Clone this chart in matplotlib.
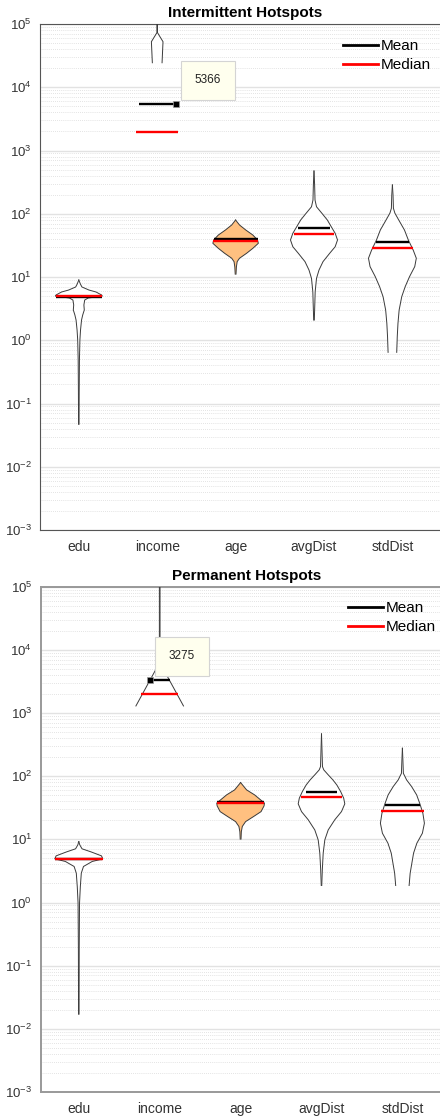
import numpy as np
import matplotlib
matplotlib.use('Agg')
import matplotlib.pyplot as plt
from matplotlib.lines import Line2D
from matplotlib.ticker import LogLocator, NullFormatter, FixedLocator

plt.rcParams['font.family'] = ['Liberation Sans', 'DejaVu Sans']
plt.rcParams['mathtext.fontset'] = 'custom'
plt.rcParams['mathtext.rm'] = 'Liberation Sans'

categories = ['edu', 'income', 'age', 'avgDist', 'stdDist']

# ---- Intermittent hotspots ----
int_mean = [4.85, 5366, 39.5, 58.9, 35.7]
int_median = [5.0, 1980, 36.6, 48.4, 29.1]
int_mean_w = [0.29, 0.235, 0.28, 0.20, 0.21]
int_median_w = [0.295, 0.267, 0.29, 0.26, 0.26]

# violin outlines: values and half widths (density)
int_edu_y = [8.97, 7.76, 6.95, 6.22, 5.79, 5.2, 5.0, 4.8, 4.66, 4.32, 3.61, 3.01, 2.51, 2.09, 1.45, 1.01, 0.49, 0.163, 0.047]
int_edu_w = [0, 0.02, 0.04, 0.13, 0.22, 0.29, 0.30, 0.2, 0.12, 0.075, 0.065, 0.07, 0.05, 0.035, 0.022, 0.014, 0.008, 0.005, 0.003]
int_income_y = [2e5, 72800, 52500, 24400]
int_income_w = [0.004, 0.004, 0.074, 0.062]
int_age_y = [79.6, 66.4, 55.3, 46.1, 38.5, 34.1, 28.4, 23.7, 19.8, 17.5, 14.4, 11.1]
int_age_w = [0, 0.05, 0.13, 0.22, 0.28, 0.29, 0.22, 0.14, 0.05, 0.02, 0.01, 0.005]
int_avg_y = [474, 285, 165, 129, 102, 79.6, 62.4, 49.1, 38.5, 30.1, 23.7, 17.5, 12.9, 9.53, 5.86, 3.61, 2.09]
int_avg_w = [0, 0.008, 0.013, 0.032, 0.10, 0.17, 0.22, 0.27, 0.30, 0.27, 0.20, 0.115, 0.064, 0.032, 0.015, 0.01, 0.004]
int_std_y = [285, 198, 122, 102, 79.6, 55.3, 38.5, 26.7, 19.8, 14.6, 10.1, 7.03, 4.88, 3.01, 1.85, 1.14, 0.644]
int_std_w = [0, 0.008, 0.013, 0.032, 0.081, 0.154, 0.203, 0.265, 0.305, 0.285, 0.218, 0.163, 0.119, 0.086, 0.071, 0.062, 0.055]

# ---- Permanent hotspots ----
perm_mean = [4.8, 3275, 38.5, 56.5, 35.2]
perm_median = [4.95, 1980, 37.0, 46.6, 28.6]
perm_mean_w = [0.29, 0.125, 0.29, 0.194, 0.216]
perm_median_w = [0.297, 0.23, 0.294, 0.258, 0.262]

perm_edu_y = [9.22, 8.18, 7.08, 6.34, 5.48, 4.92, 4.46, 3.72, 2.92, 1.79, 0.98, 0.179, 0.0171]
perm_edu_w = [0, 0.012, 0.04, 0.15, 0.28, 0.297, 0.165, 0.058, 0.031, 0.019, 0.009, 0.005, 0.003]
perm_income_y = [2e5, 6200, 1294]
perm_income_w = [0.004, 0.004, 0.294]
perm_age_y = [79.2, 60.7, 50.6, 42.2, 37.5, 33.9, 27.5, 23.0, 19.1, 16.0, 13.2, 10.1]
perm_age_w = [0, 0.074, 0.173, 0.247, 0.295, 0.29, 0.253, 0.161, 0.062, 0.021, 0.009, 0.005]
perm_avg_y = [467, 261, 142, 126, 105, 87.5, 72.8, 57.0, 44.9, 36.5, 27.5, 20.4, 14.1, 9.82, 6.05, 3.29, 1.86]
perm_avg_w = [0, 0.006, 0.012, 0.028, 0.083, 0.140, 0.189, 0.237, 0.274, 0.288, 0.247, 0.164, 0.083, 0.041, 0.021, 0.010, 0.003]
perm_std_y = [277, 181, 111, 87.3, 68.4, 50.6, 36.6, 25.9, 18.0, 12.5, 8.71, 6.05, 4.20, 2.92, 1.86]
perm_std_w = [0, 0.006, 0.012, 0.052, 0.114, 0.176, 0.216, 0.253, 0.272, 0.247, 0.179, 0.138, 0.117, 0.096, 0.083]

y_decades = [1e-3, 1e-2, 1e-1, 1e0, 1e1, 1e2, 1e3, 1e4, 1e5]

W, H = 440, 1117
fig = plt.figure(figsize=(W / 100, H / 100), dpi=100)


def draw_panel(ax, title, title_x, title_base, outlines, means, medians, mean_w, median_w,
               tip_side, legend_xy, spine_color, spine_lw):
    ax.set_yscale('log')
    ax.set_ylim(y_decades[0], y_decades[-1])
    ax.yaxis.set_major_locator(FixedLocator(y_decades))
    ax.yaxis.set_minor_locator(LogLocator(base=10, subs=np.arange(2, 10), numticks=100))
    ax.yaxis.set_minor_formatter(NullFormatter())
    ax.yaxis.grid(True, which='major', color='#e2e2e2', lw=1.0)
    ax.yaxis.grid(True, which='minor', color='#dadada', lw=0.6, ls=(0, (1, 1.5)))
    ax.set_axisbelow(True)

    for i, (ys, ws) in enumerate(outlines):
        c = i + 1
        ys = np.array(ys)
        ws = np.array(ws)
        face = '#FFC080' if categories[i] == 'age' else 'white'
        ax.fill_betweenx(ys, c - ws, c + ws, facecolor=face, edgecolor='none', zorder=2)
        ax.plot(c - ws, ys, color='#3a3a3a', lw=0.7, zorder=3)
        ax.plot(c + ws, ys, color='#3a3a3a', lw=0.7, zorder=3)
        ax.plot([c - mean_w[i], c + mean_w[i]], [means[i]] * 2, color='black', lw=1.7,
                solid_capstyle='butt', zorder=4)
        ax.plot([c - median_w[i], c + median_w[i]], [medians[i]] * 2, color='red', lw=1.7,
                solid_capstyle='butt', zorder=5)

    # datatip on the income mean
    tip_x = 2 + tip_side * mean_w[1]
    ax.plot(tip_x, means[1], 's', color='black', ms=5, mec='#999999', mew=0.5, zorder=6)
    ax.annotate(str(int(means[1])), xy=(tip_x, means[1]), xytext=(32.5, 24),
                textcoords='offset pixels', ha='center', va='center', fontsize=8.5,
                color='#222222', zorder=7,
                bbox=dict(boxstyle='square,pad=1.15', fc='#FFFFEE', ec='#d4d4d4', lw=0.8))

    ax.set_xticks(range(1, len(categories) + 1))
    ax.set_xticklabels(categories)
    ax.tick_params(axis='x', length=0, pad=7, labelsize=10, labelcolor='#333333')
    ax.tick_params(axis='y', which='both', length=0, pad=6, labelsize=9.5, labelcolor='#333333')

    for s in ['left', 'bottom', 'top']:
        ax.spines[s].set_color(spine_color)
        ax.spines[s].set_linewidth(spine_lw)
    ax.spines['right'].set_visible(False)

    fig.text(title_x / W, 1 - title_base / H, title, ha='center', va='baseline',
             fontsize=11, fontweight='bold', color='black')

    handles = [Line2D([], [], color='black', lw=2), Line2D([], [], color='red', lw=2)]
    ax.legend(handles, ['Mean', 'Median'], loc='upper left',
              bbox_to_anchor=(legend_xy[0] / W, 1 - legend_xy[1] / H),
              bbox_transform=fig.transFigure, frameon=False, fontsize=11,
              handlelength=2.3, handletextpad=0.2, labelspacing=0.35,
              borderpad=0, borderaxespad=0)


# top panel: x=1 at 78.8 px, 78.4 px per category
ax1 = fig.add_axes([40 / W, 1 - 530 / H, 400 / W, 506 / H])
ax1.set_xlim(1 - 38.8 / 78.4, 1 + 361.2 / 78.4)
draw_panel(ax1, 'Intermittent Hotspots', 245, 16.7,
           [(int_edu_y, int_edu_w), (int_income_y, int_income_w), (int_age_y, int_age_w),
            (int_avg_y, int_avg_w), (int_std_y, int_std_w)],
           int_mean, int_median, int_mean_w, int_median_w,
           1, (343, 39), '#555555', 0.8)

# bottom panel: x=1 at 78.8 px, 80.9 px per category
ax2 = fig.add_axes([40.5 / W, 1 - 1092 / H, 399.5 / W, 505.3 / H])
ax2.set_xlim(1 - 38.3 / 80.9, 1 + 361.2 / 80.9)
draw_panel(ax2, 'Permanent Hotspots', 246.7, 580,
           [(perm_edu_y, perm_edu_w), (perm_income_y, perm_income_w), (perm_age_y, perm_age_w),
            (perm_avg_y, perm_avg_w), (perm_std_y, perm_std_w)],
           perm_mean, perm_median, perm_mean_w, perm_median_w,
           -1, (347.7, 601), '#999999', 1.4)

fig.savefig('out.png', dpi=100)
